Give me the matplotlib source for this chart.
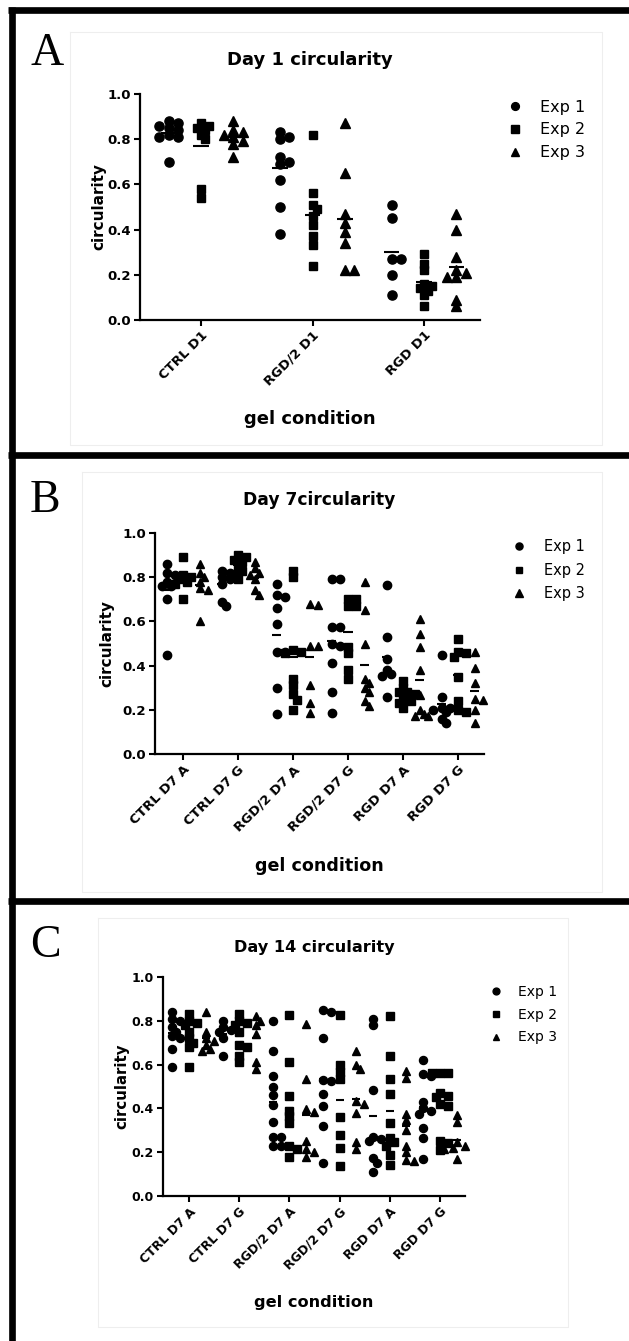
import numpy as np
import matplotlib
matplotlib.use('Agg')
import matplotlib.pyplot as plt
from matplotlib.lines import Line2D

plt.rcParams['font.family'] = ['DejaVu Sans']

# ---------------- data ----------------
exp_labels = ['Exp 1', 'Exp 2', 'Exp 3']

day1_groups = ['CTRL D1', 'RGD/2 D1', 'RGD D1']
day1_exp1 = [[0.88, 0.87, 0.86, 0.85, 0.84, 0.82, 0.81, 0.81, 0.70],
             [0.83, 0.81, 0.80, 0.72, 0.70, 0.69, 0.62, 0.50, 0.38],
             [0.51, 0.45, 0.27, 0.27, 0.20, 0.11]]
day1_exp2 = [[0.87, 0.86, 0.85, 0.84, 0.82, 0.80, 0.58, 0.54],
             [0.82, 0.56, 0.51, 0.49, 0.46, 0.42, 0.37, 0.33, 0.24],
             [0.29, 0.25, 0.22, 0.16, 0.15, 0.14, 0.13, 0.11, 0.06]]
day1_exp3 = [[0.88, 0.84, 0.83, 0.82, 0.81, 0.79, 0.78, 0.72],
             [0.87, 0.65, 0.47, 0.43, 0.39, 0.34, 0.22, 0.22],
             [0.47, 0.40, 0.28, 0.22, 0.21, 0.19, 0.19, 0.09, 0.06]]

day7_groups = ['CTRL D7 A', 'CTRL D7 G', 'RGD/2 D7 A', 'RGD/2 D7 G', 'RGD D7 A', 'RGD D7 G']
day7_exp1 = [[0.86, 0.82, 0.81, 0.78, 0.76, 0.76, 0.70, 0.45],
             [0.83, 0.82, 0.80, 0.79, 0.77, 0.69, 0.67],
             [0.77, 0.72, 0.71, 0.66, 0.59, 0.46, 0.46, 0.30, 0.18],
             [0.79, 0.79, 0.575, 0.575, 0.50, 0.49, 0.41, 0.28, 0.185],
             [0.765, 0.53, 0.43, 0.38, 0.36, 0.355, 0.26],
             [0.45, 0.26, 0.21, 0.21, 0.20, 0.19, 0.16, 0.14]]
day7_exp2 = [[0.89, 0.81, 0.80, 0.79, 0.78, 0.77, 0.70],
             [0.90, 0.89, 0.88, 0.87, 0.85, 0.83, 0.815, 0.79],
             [0.83, 0.80, 0.47, 0.46, 0.455, 0.34, 0.31, 0.27, 0.245, 0.20],
             [0.70, 0.70, 0.67, 0.67, 0.485, 0.455, 0.38, 0.34],
             [0.33, 0.30, 0.28, 0.28, 0.27, 0.25, 0.24, 0.23, 0.21],
             [0.52, 0.46, 0.455, 0.44, 0.35, 0.24, 0.20, 0.19]]
day7_exp3 = [[0.86, 0.82, 0.80, 0.78, 0.75, 0.74, 0.60],
             [0.87, 0.84, 0.82, 0.81, 0.79, 0.74, 0.72],
             [0.68, 0.675, 0.49, 0.49, 0.31, 0.23, 0.185],
             [0.78, 0.65, 0.50, 0.34, 0.32, 0.30, 0.28, 0.24, 0.215],
             [0.61, 0.545, 0.485, 0.38, 0.265, 0.20, 0.18, 0.17, 0.17],
             [0.46, 0.39, 0.32, 0.25, 0.245, 0.20, 0.14]]

day14_groups = ['CTRL D7 A', 'CTRL D7 G', 'RGD/2 D7 A', 'RGD/2 D7 G', 'RGD D7 A', 'RGD D7 G']
day14_exp1 = [[0.84, 0.81, 0.80, 0.77, 0.75, 0.73, 0.72, 0.67, 0.59],
              [0.80, 0.77, 0.76, 0.75, 0.72, 0.64],
              [0.80, 0.66, 0.55, 0.50, 0.46, 0.415, 0.34, 0.27, 0.27, 0.23, 0.23],
              [0.85, 0.84, 0.72, 0.53, 0.525, 0.465, 0.41, 0.32, 0.15],
              [0.81, 0.78, 0.485, 0.27, 0.26, 0.25, 0.175, 0.15, 0.11],
              [0.62, 0.555, 0.55, 0.43, 0.40, 0.39, 0.375, 0.31, 0.265, 0.17]]
day14_exp2 = [[0.83, 0.80, 0.79, 0.78, 0.75, 0.72, 0.70, 0.68, 0.59],
              [0.83, 0.80, 0.79, 0.78, 0.75, 0.69, 0.68, 0.64, 0.61],
              [0.825, 0.61, 0.455, 0.39, 0.365, 0.335, 0.23, 0.215, 0.18],
              [0.825, 0.60, 0.565, 0.535, 0.36, 0.28, 0.22, 0.137],
              [0.82, 0.64, 0.535, 0.465, 0.335, 0.266, 0.245, 0.23, 0.185, 0.14],
              [0.56, 0.56, 0.56, 0.47, 0.455, 0.45, 0.42, 0.41, 0.25, 0.24, 0.21]]
day14_exp3 = [[0.84, 0.75, 0.72, 0.71, 0.69, 0.67, 0.66],
              [0.82, 0.80, 0.78, 0.74, 0.61, 0.58],
              [0.785, 0.535, 0.395, 0.385, 0.25, 0.215, 0.20, 0.18],
              [0.66, 0.60, 0.58, 0.435, 0.42, 0.38, 0.245, 0.215],
              [0.57, 0.54, 0.375, 0.345, 0.30, 0.23, 0.20, 0.165, 0.16],
              [0.37, 0.34, 0.245, 0.23, 0.22, 0.215, 0.17]]

# ---------------- layout (pixels in the 629x1341 image) ----------------
W, H = 629, 1341
markers = ['o', 's', '^']

panels = [
    dict(letter='A', letter_xy=(30, 65), title='Day 1 circularity',
         groups=day1_groups, exps=[day1_exp1, day1_exp2, day1_exp3],
         box=(140, 480, 94, 320), tick0=201, spacing=111.5, sub=0.29, mean_w=0.14,
         ms=[6.6, 6.0, 6.6], fs_title=13, fs_tick=9.5, fs_lab=13, fs_ylab=11,
         fs_leg=11.5, leg_marker=(515, 109), leg_text=540, leg_pitch=26.5,
         ylab_x=106, xlab_top=410, title_bottom=65, frame=(70, 602, 32, 445)),
    dict(letter='B', letter_xy=(30, 512), title='Day 7circularity',
         groups=day7_groups, exps=[day7_exp1, day7_exp2, day7_exp3],
         box=(155, 484, 533, 754), tick0=183, spacing=55.0, sub=0.30, mean_w=0.18,
         ms=[6.0, 5.6, 6.0], fs_title=12.3, fs_tick=9.6, fs_lab=12.6, fs_ylab=11,
         fs_leg=10.5, leg_marker=(519, 548), leg_text=544, leg_pitch=25.5,
         ylab_x=114, xlab_top=857, title_bottom=505, frame=(82, 602, 472, 892)),
    dict(letter='C', letter_xy=(30, 957), title='Day 14 circularity',
         groups=day14_groups, exps=[day14_exp1, day14_exp2, day14_exp3],
         box=(163, 465, 977, 1196), tick0=189, spacing=50.2, sub=0.33, mean_w=0.16,
         ms=[5.8, 5.4, 5.8], fs_title=11.6, fs_tick=9.0, fs_lab=11.6, fs_ylab=10.8,
         fs_leg=10, leg_marker=(496, 993), leg_text=518, leg_pitch=25,
         ylab_x=129, xlab_top=1295, title_bottom=952, frame=(98, 568, 918, 1327)),
]


def swarm(vals, px_x, px_y, diam, max_px):
    # simple beeswarm: spread overlapping points sideways (pixel space),
    # kept inside +-max_px; overlap allowed when it gets crowded
    vals = np.asarray(vals, dtype=float)
    offs = np.zeros(len(vals))
    placed = []
    step = diam * 0.5
    cands = [0.0] + [s * k * step for k in range(1, 20) for s in (1, -1)]
    cands = [c for c in cands if abs(c) <= max_px]
    min_d = 0.72 * diam
    for i in np.argsort(-vals):
        y = vals[i] * px_y
        best, best_d = 0.0, -1
        for c in cands:
            d = min([np.hypot(c - px, y - py) for px, py in placed] + [1e9])
            if d >= min_d:
                best = c
                break
            if d > best_d:
                best, best_d = c, d
        placed.append((best, y))
        offs[i] = best / px_x
    return offs


fig = plt.figure(figsize=(W / 100, H / 100), dpi=100)

# background: black frame lines and faint graph boxes
bg = fig.add_axes([0, 0, 1, 1], zorder=-1)
bg.set_xlim(0, W)
bg.set_ylim(H, 0)
bg.axis('off')
for p in panels:
    x0, x1, y0, y1 = p['frame']
    bg.plot([x0, x1, x1, x0, x0], [y0, y0, y1, y1, y0], color='#eeeeee', lw=0.8)
border_kw = dict(color='black', lw=4.8, solid_capstyle='butt')
bg.plot([8, W], [10, 10], **border_kw)
bg.plot([8, W], [455, 455], **border_kw)
bg.plot([8, W], [900.5, 900.5], **border_kw)
bg.plot([11.5, 11.5], [7, H], **border_kw)

for p in panels:
    left, right, top, bottom = p['box']
    ax = fig.add_axes([left / W, 1 - bottom / H, (right - left) / W, (bottom - top) / H])
    n = len(p['groups'])
    sp = p['spacing']
    xl = -(p['tick0'] - left) / sp
    xr = xl + (right - left) / sp
    px_y = bottom - top

    for gi in range(n):
        for ei in range(3):
            vals = p['exps'][ei][gi]
            xc = gi + (ei - 1) * p['sub']
            xs = xc + swarm(vals, sp, px_y, p['ms'][ei] * 1.39, p['sub'] * sp * 0.75)
            ax.plot(xs, vals, ls='none', marker=markers[ei], ms=p['ms'][ei],
                    color='black', mec='black', zorder=3, clip_on=False)
            ax.hlines(np.mean(vals), xc - p['mean_w'] / 2, xc + p['mean_w'] / 2,
                      color='black', lw=1.5, zorder=2)

    ax.set_xlim(xl, xr)
    ax.set_ylim(0, 1)
    ax.set_yticks(np.arange(0, 1.01, 0.2))
    ax.set_yticklabels(['%.1f' % v for v in np.arange(0, 1.01, 0.2)],
                       fontsize=p['fs_tick'], fontweight='bold')
    ax.set_xticks(range(n))
    ax.set_xticklabels(p['groups'], rotation=45, ha='right', rotation_mode='anchor',
                       fontsize=p['fs_tick'], fontweight='bold')
    for s in ['top', 'right']:
        ax.spines[s].set_visible(False)
    for s in ['left', 'bottom']:
        ax.spines[s].set_linewidth(1.6)
    ax.tick_params(direction='out', length=4.5, width=1.5, pad=2)
    ax.set_facecolor('none')

    ax.set_ylabel('circularity', fontsize=p['fs_ylab'], fontweight='bold')
    ax.yaxis.set_label_coords((p['ylab_x'] - left) / (right - left), 0.5)
    ax.set_xlabel('gel condition', fontsize=p['fs_lab'], fontweight='bold')
    ax.xaxis.set_label_coords(0.5, -(p['xlab_top'] - bottom) / (bottom - top))
    ax.text(0.5, (bottom - p['title_bottom']) / (bottom - top), p['title'],
            transform=ax.transAxes, ha='center', va='baseline',
            fontsize=p['fs_title'], fontweight='bold')

    fig.text(p['letter_xy'][0] / W, 1 - p['letter_xy'][1] / H, p['letter'],
             family='Liberation Serif', fontsize=33, va='baseline', ha='left')

    # legend
    f = p['fs_leg']
    hl = 1.0
    mx, my = p['leg_marker']
    htp = ((p['leg_text'] - mx) / 1.389) / f - hl / 2
    handles = [Line2D([], [], ls='none', marker=markers[i], ms=p['ms'][i] * 0.85,
                      color='black') for i in range(3)]
    text_h = f * 1.17 * 1.389
    lsp = ((p['leg_pitch'] / 1.389) - f * 1.17) / f
    fig.legend(handles, exp_labels, loc='upper left', frameon=False, fontsize=f,
               handlelength=hl, handletextpad=htp, labelspacing=lsp,
               borderpad=0, borderaxespad=0,
               bbox_to_anchor=((mx - hl / 2 * f * 1.389) / W, 1 - (my - text_h / 2) / H),
               bbox_transform=fig.transFigure)

fig.savefig('out.png', dpi=100)
